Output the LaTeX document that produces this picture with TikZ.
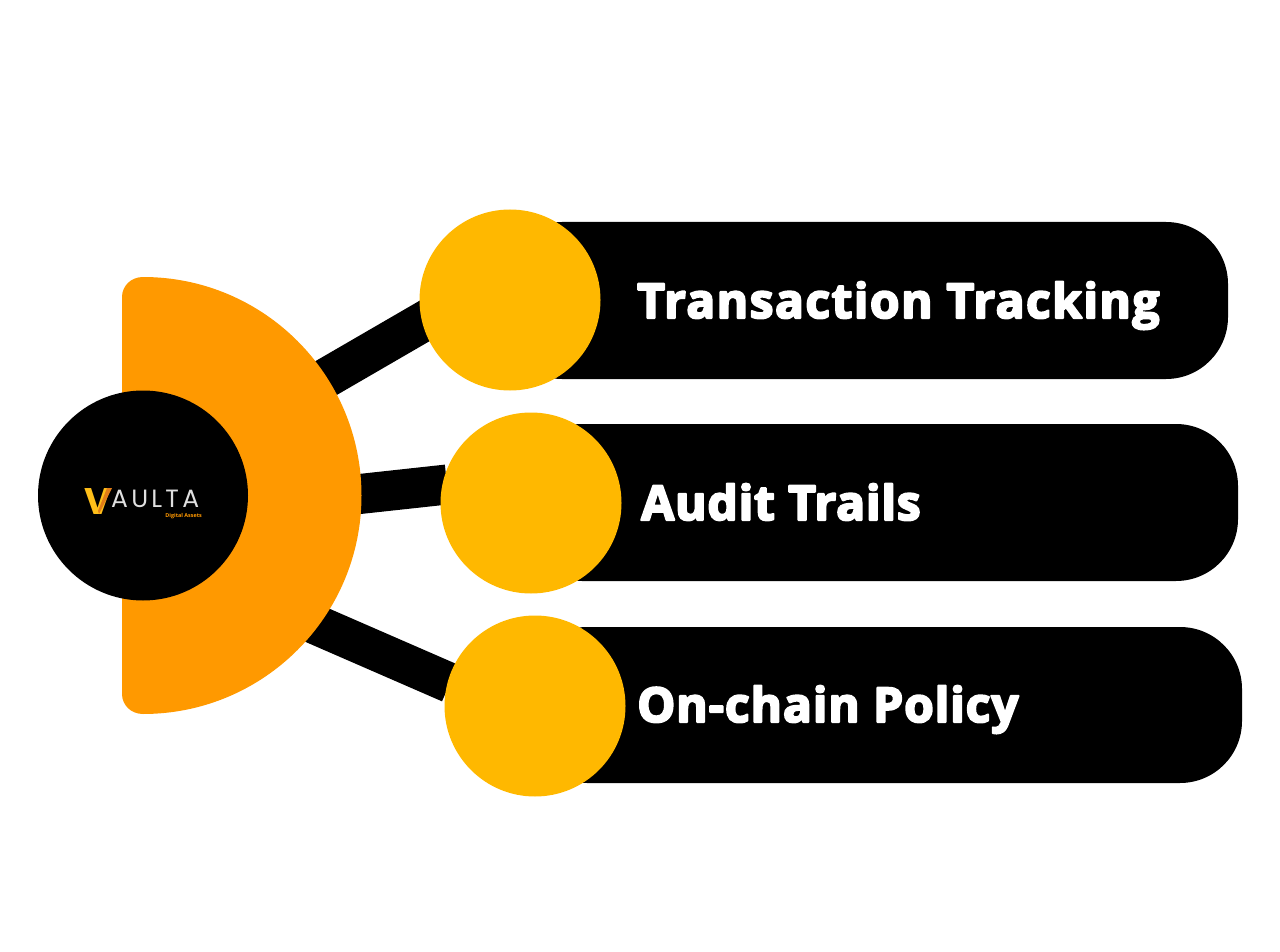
\documentclass[tikz,border=0pt]{standalone}
\usepackage{fontspec}
\setmainfont{Open Sans}
\newfontfamily\labelfont[LetterSpace=3]{Open Sans}
\newfontfamily\labelfontb[LetterSpace=1.7]{Open Sans}
\newfontfamily\labelfontc[LetterSpace=1.8]{Open Sans}
\newfontfamily\logofont{Poppins}
\newfontfamily\logofontw[LetterSpace=13]{Poppins}
\definecolor{hubor}{HTML}{FF9900}
\definecolor{discgold}{HTML}{FFB800}
\tikzset{
  x=1pt,y=-1pt,
  link/.style={line width=40pt,black,line cap=butt},
  disc/.style={circle,fill=discgold,minimum size=181pt,inner sep=0pt,outer sep=0pt},
  hubdisc/.style={circle,fill=black,minimum size=210pt,inner sep=0pt,outer sep=0pt},
  bar/.style={fill=black,rounded corners=62pt},
  lbl/.style={anchor=base west,inner sep=0pt,text=white},
}
\newcommand{\fatstroke}[1]{\special{pdf:code q 2 Tr 2 w 1 j 1 J 1 1 1 RG}#1\special{pdf:code Q}}
\begin{document}
\begin{tikzpicture}
\useasboundingbox (0,0) rectangle (1280,952);
\coordinate (a1) at (290,399);
\coordinate (e1) at (440,312);
\coordinate (a2) at (300,500.5);
\coordinate (e2) at (447,484.5);
\coordinate (a3) at (280,609);
\coordinate (e3) at (450,683);
\draw[link] (a1) -- (e1);
\draw[link] (a2) -- (e2);
\draw[link] (a3) -- (e3);
% half-disc
\fill[hubor] (143,277) arc[start angle=-90,end angle=90,radius=218.5]
  -- (143,714) .. controls (131,714) and (122,705) .. (122,694)
  -- (122,297) .. controls (122,286) and (131,277) .. (143,277) -- cycle;
\node[hubdisc] (hub) at (143,495.5) {};
% bars
\fill[bar] (500,222) rectangle (1228,379);
\fill[bar] (520,424) rectangle (1238,581);
\fill[bar] (525,627) rectangle (1242,783);
\node[disc] (c1) at (510,300) {};
\node[disc] (c2) at (531,503) {};
\node[disc] (c3) at (535,706) {};
% labels
\node[lbl,font=\labelfont\bfseries\fontsize{48}{48}\selectfont] (t1) at (637,318) {\fatstroke{Transaction Tracking}};
\node[lbl,font=\labelfontb\bfseries\fontsize{48}{48}\selectfont] (t2) at (641,520) {\fatstroke{Audit Trails}};
\node[lbl,font=\labelfontc\bfseries\fontsize{48}{48}\selectfont] (t3) at (637,722) {\fatstroke{On-chain Policy}};
% logo
\node[anchor=base west,inner sep=0pt,text=discgold!90!white,font=\logofont\bfseries\fontsize{37}{37}\selectfont] (logov) at (84.5,514) {V};
\fill[black!5!brown!40!orange] (107,488) -- (112,488) -- (99,514) -- (98,511) -- cycle;
\node[anchor=base west,inner sep=0pt,text=black!12,font=\logofontw\fontsize{25}{25}\selectfont] (logot) at (111,507) {AULTA};
\node[anchor=base east,inner sep=0pt,text=hubor,font=\bfseries\fontsize{5.4}{5.4}\selectfont] (logos) at (202,517) {Digital Assets};
\end{tikzpicture}
\end{document}
